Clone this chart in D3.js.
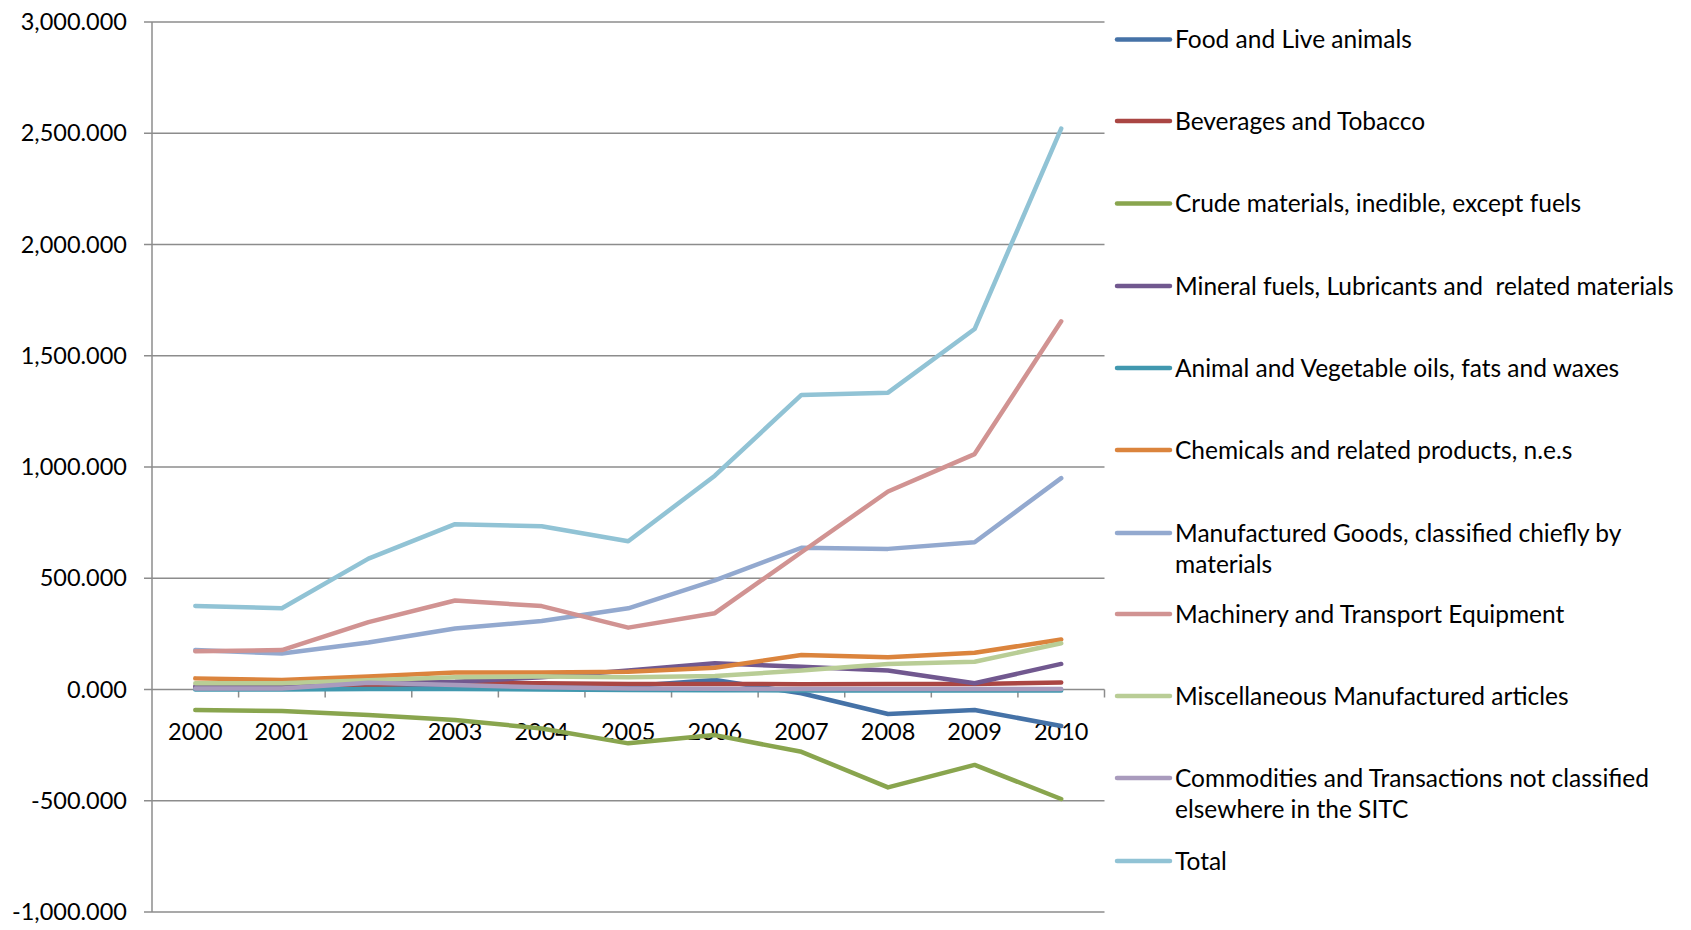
<!DOCTYPE html>
<html>
<head>
<meta charset="utf-8">
<script src="https://cdn.jsdelivr.net/npm/d3@7"></script>
<style>
  body { margin: 0; background: #fff; }
  svg { display: block; font-family: Lato, "Open Sans", sans-serif; }
  text { white-space: pre; }
</style>
</head>
<body>
<svg></svg>
<script>
var width = 1691;
var height = 930;

// data
var years = ["2000","2001","2002","2003","2004","2005","2006","2007","2008","2009","2010"];

var seriesNames = [
  ["Food and Live animals"],
  ["Beverages and Tobacco"],
  ["Crude materials, inedible, except fuels"],
  ["Mineral fuels, Lubricants and  related materials"],
  ["Animal and Vegetable oils, fats and waxes"],
  ["Chemicals and related products, n.e.s"],
  ["Manufactured Goods, classified chiefly by", "materials"],
  ["Machinery and Transport Equipment"],
  ["Miscellaneous Manufactured articles"],
  ["Commodities and Transactions not classified", "elsewhere in the SITC"],
  ["Total"]
];

var food        = [5, 5, 15, 15, 10, 15, 43, -17, -110, -92, -164];
var beverages   = [10, 10, 20, 28, 28, 25, 25, 24, 25, 25, 32];
var crude       = [-92, -97, -115, -137, -175, -242, -205, -280, -440, -339, -492];
var mineral     = [15, 12, 30, 35, 55, 85, 118, 102, 85, 28, 115];
var oils        = [0, 0, 2, 2, 0, -2, -3, -4, -4, -4, -4];
var chemicals   = [50, 43, 58, 76, 76, 80, 98, 155, 145, 165, 225];
var manufact    = [177, 162, 211, 274, 308, 365, 490, 637, 632, 662, 950];
var machinery   = [172, 177, 303, 400, 375, 278, 343, 617, 890, 1058, 1655];
var misc        = [28, 28, 42, 55, 58, 55, 61, 85, 115, 125, 208];
var commodities = [5, 5, 30, 20, 10, 5, 3, 2, 2, 2, 2];
var total       = [375, 365, 588, 743, 734, 666, 961, 1324, 1334, 1620, 2521];

var seriesValues = [food, beverages, crude, mineral, oils, chemicals, manufact, machinery, misc, commodities, total];

var colors = ["#4572A7", "#AA4643", "#89A54E", "#71588F", "#4198AF", "#DB843D",
              "#93A9CF", "#D19392", "#B9CD96", "#A99BBD", "#91C3D5"];

var yTicks = [-1000, -500, 0, 500, 1000, 1500, 2000, 2500, 3000];

var svg = d3.select("svg")
  .attr("width", width)
  .attr("height", height);

var plotLeft = 152, plotRight = 1104.5, plotTop = 22, plotBottom = 912;

var x = d3.scalePoint()
  .domain(years)
  .range([plotLeft, plotRight])
  .padding(0.5);

var y = d3.scaleLinear()
  .domain([-1000, 3000])
  .range([plotBottom, plotTop]);

var fmt = d3.formatLocale({ decimal: ".", thousands: ",", grouping: [3], currency: ["", ""], minus: "-" }).format(",.3f");

// gridlines
svg.append("g")
  .selectAll("line")
  .data(yTicks)
  .enter().append("line")
    .attr("x1", plotLeft - 8)
    .attr("x2", plotRight)
    .attr("y1", function(d) { return y(d); })
    .attr("y2", function(d) { return y(d); })
    .attr("stroke", "#8c8c8c")
    .attr("stroke-width", 1.5);

// y axis line
svg.append("line")
  .attr("x1", plotLeft).attr("x2", plotLeft)
  .attr("y1", plotTop).attr("y2", plotBottom)
  .attr("stroke", "#8c8c8c")
  .attr("stroke-width", 1.5);

// y labels
svg.append("g")
  .selectAll("text")
  .data(yTicks)
  .enter().append("text")
    .attr("x", 127)
    .attr("y", function(d) { return y(d); })
    .attr("dy", "0.35em")
    .attr("text-anchor", "end")
    .attr("font-size", "23.5px")
    .attr("fill", "#000")
    .text(function(d) { return fmt(d); });

// category tick marks on the zero line
var step = x.step();
var boundaries = d3.range(years.length + 1).map(function(i) { return plotLeft + i * step; });
svg.append("g")
  .selectAll("line")
  .data(boundaries.slice(1))
  .enter().append("line")
    .attr("x1", function(d) { return d; })
    .attr("x2", function(d) { return d; })
    .attr("y1", y(0))
    .attr("y2", y(0) + 8)
    .attr("stroke", "#8c8c8c")
    .attr("stroke-width", 1.5);

// category labels
svg.append("g")
  .selectAll("text")
  .data(years)
  .enter().append("text")
    .attr("x", function(d) { return x(d); })
    .attr("y", y(0) + 42)
    .attr("dy", "0.35em")
    .attr("text-anchor", "middle")
    .attr("font-size", "23.5px")
    .attr("fill", "#000")
    .text(function(d) { return d; });

// lines
var line = d3.line()
  .x(function(d, i) { return x(years[i]); })
  .y(function(d) { return y(d); });

svg.append("g")
  .selectAll("path")
  .data(seriesValues)
  .enter().append("path")
    .attr("d", function(d) { return line(d); })
    .attr("fill", "none")
    .attr("stroke", function(d, i) { return colors[i]; })
    .attr("stroke-width", 4.5)
    .attr("stroke-linejoin", "round")
    .attr("stroke-linecap", "round");

// legend
var legendY = [39.5, 121, 203.5, 286, 368, 450, 533, 614, 696, 778, 861];
var legend = svg.append("g")
  .selectAll("g")
  .data(seriesNames)
  .enter().append("g")
    .attr("transform", function(d, i) { return "translate(0," + legendY[i] + ")"; });

legend.append("line")
  .attr("x1", 1117).attr("x2", 1170)
  .attr("y1", 0).attr("y2", 0)
  .attr("stroke", function(d, i) { return colors[i]; })
  .attr("stroke-width", 4.5)
  .attr("stroke-linecap", "round");

legend.each(function(d) {
  var g = d3.select(this);
  d.forEach(function(txt, j) {
    g.append("text")
      .attr("x", 1175)
      .attr("y", j * 31.5)
      .attr("dy", "0.35em")
      .attr("font-size", "24.5px")
      .attr("fill", "#000")
      .text(txt);
  });
});
</script>
</body>
</html>
